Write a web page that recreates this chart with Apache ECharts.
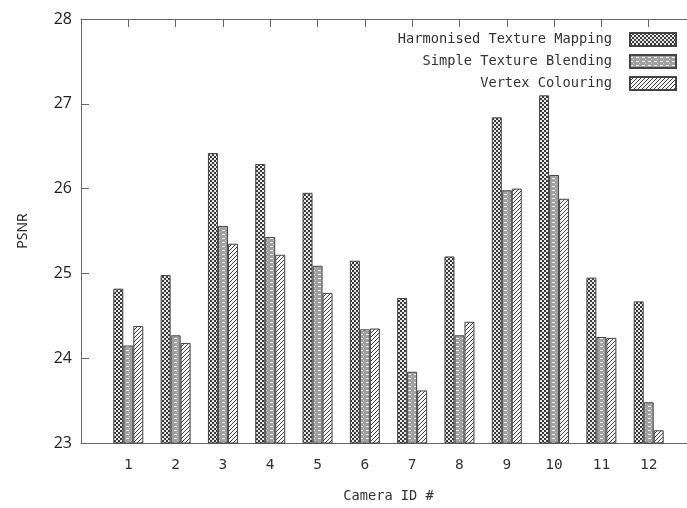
<!DOCTYPE html>
<html><head><meta charset="utf-8">
<script src="https://cdn.jsdelivr.net/npm/echarts@6/dist/echarts.min.js"></script>
<style>html,body{margin:0;padding:0;background:#fff}#c{width:687px;height:508px}</style>
</head><body><div id="c"></div>
<script>
var categories = ['1','2','3','4','5','6','7','8','9','10','11','12'];
var seriesNames = ['Harmonised Texture Mapping','Simple Texture Blending','Vertex Colouring'];
var htm = [24.82, 24.98, 26.42, 26.29, 25.95, 25.15, 24.71, 25.20, 26.84, 27.10, 24.95, 24.67];
var stb = [24.15, 24.27, 25.56, 25.43, 25.09, 24.34, 23.84, 24.27, 25.98, 26.16, 24.25, 23.48];
var vc  = [24.38, 24.18, 25.35, 25.22, 24.77, 24.35, 23.62, 24.43, 26.00, 25.88, 24.24, 23.15];
var yTicks = [23, 24, 25, 26, 27, 28];

function pat(w, h, draw) {
  var c = document.createElement('canvas'); c.width = w; c.height = h;
  var g = c.getContext('2d'); draw(g, w, h);
  return { image: c, repeat: 'repeat' };
}
var pChecker = pat(4, 4, function (g) {
  g.fillStyle = '#3a3a3a'; g.fillRect(0, 0, 4, 4);
  g.fillStyle = '#e8e8e8'; g.fillRect(0, 0, 2, 2); g.fillRect(2, 2, 2, 2);
});
var pGray = pat(6, 4, function (g) {
  g.fillStyle = '#a0a0a0'; g.fillRect(0, 0, 6, 4);
  g.fillStyle = '#f0f0f0'; g.fillRect(0, 2, 3, 1);
  g.fillStyle = '#cccccc'; g.fillRect(3, 0, 1, 1);
});
var pHatch = pat(4, 4, function (g) {
  g.fillStyle = '#f4f4f4'; g.fillRect(0, 0, 4, 4);
  g.strokeStyle = '#444'; g.lineWidth = 1;
  g.beginPath(); g.moveTo(-1, 5); g.lineTo(5, -1); g.stroke();
  g.beginPath(); g.moveTo(-1, 1); g.lineTo(1, -1); g.stroke();
  g.beginPath(); g.moveTo(3, 5); g.lineTo(5, 3); g.stroke();
});
var patterns = [pChecker, pGray, pHatch];
var values = [htm, stb, vc];

var axisData = [''].concat(categories, ['']);
function pad(a) { return ['-'].concat(a, ['-']); }

var frame = { lineStyle: { color: '#666', width: 1 } };
var tick = { inside: true, length: 8, lineStyle: { color: '#666' } };
var option = {
  animation: false,
  backgroundColor: '#fff',
  grid: { left: 81, right: -9, top: 19, bottom: 65, outerBoundsMode: 'none', containLabel: false },
  legend: {
    orient: 'vertical', right: 5, top: 27, align: 'right',
    itemWidth: 46, itemHeight: 13, itemGap: 7, icon: 'rect',
    textStyle: { fontFamily: 'DejaVu Sans Mono', fontSize: 13.7, color: '#333', padding: [0, 13, 0, 0] },
    data: seriesNames
  },
  xAxis: [{
    type: 'category', data: axisData, boundaryGap: false, position: 'bottom',
    axisLine: frame, axisTick: tick,
    axisLabel: { fontFamily: 'DejaVu Sans Mono', fontSize: 14.5, color: '#333', margin: 15 },
    name: 'Camera ID #', nameLocation: 'middle', nameGap: 46,
    nameTextStyle: { fontFamily: 'DejaVu Sans Mono', fontSize: 13.7, color: '#333' },
    splitLine: { show: false }
  }, {
    type: 'category', data: axisData, boundaryGap: false, position: 'top',
    axisLine: frame, axisTick: tick,
    axisLabel: { show: false }, splitLine: { show: false }
  }],
  yAxis: [{
    type: 'value', min: 23, max: 28, interval: 1, position: 'left',
    axisLine: { show: true, lineStyle: { color: '#666', width: 1 } },
    axisTick: { show: true, inside: true, length: 8, lineStyle: { color: '#666' } },
    axisLabel: { fontFamily: 'Open Sans', fontSize: 16, color: '#222', margin: 9,
      formatter: function (v) { return yTicks.indexOf(v) >= 0 ? String(v) : ''; } },
    splitLine: { show: false },
    name: 'PSNR', nameLocation: 'middle', nameGap: 51,
    nameTextStyle: { fontFamily: 'Open Sans', fontSize: 14, color: '#222' }
  }, {
    type: 'value', min: 23, max: 28, interval: 1, position: 'right',
    axisLine: { show: true, lineStyle: { color: '#666', width: 1 } },
    axisTick: { show: true, inside: true, length: 8, lineStyle: { color: '#666' } },
    axisLabel: { show: false }, splitLine: { show: false }
  }],
  series: seriesNames.map(function (n, i) {
    return {
      name: n, type: 'bar', xAxisIndex: 0, yAxisIndex: 0,
      data: pad(values[i]), barWidth: 10, barGap: '0%',
      itemStyle: { color: patterns[i], borderColor: '#444', borderWidth: 1 }
    };
  })
};
var chart = echarts.init(document.getElementById('c'), null, { renderer: 'canvas' });
chart.setOption(option);
</script></body></html>
